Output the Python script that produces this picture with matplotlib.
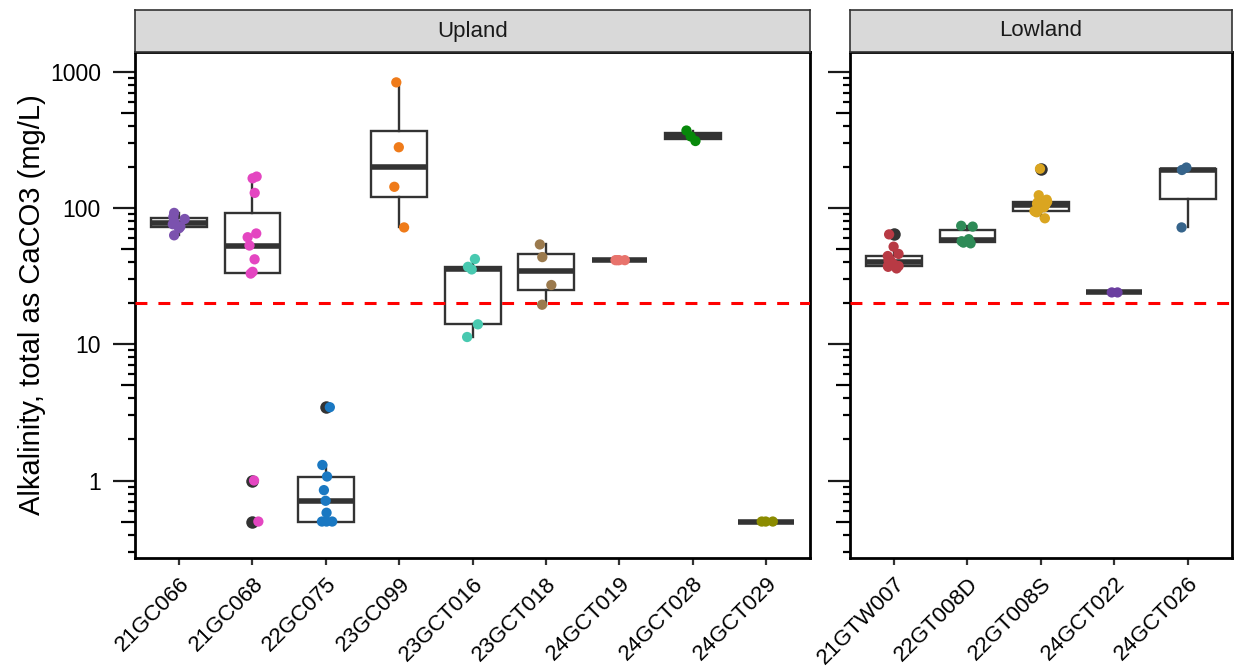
import numpy as np
import matplotlib
matplotlib.use("Agg")
import matplotlib.pyplot as plt
from matplotlib import cbook
from matplotlib.lines import TICKLEFT
from matplotlib.ticker import FixedLocator, LogLocator, NullFormatter
from matplotlib.transforms import blended_transform_factory

plt.rcParams['font.family'] = ['Liberation Sans', 'DejaVu Sans']

# alkalinity (mg/L as CaCO3) per site
a21GC066 = [63, 71, 73, 76, 79, 83, 86, 92]
a21GC068 = [0.5, 1.0, 33, 34, 42, 53, 61, 65, 129, 165, 170]
a22GC075 = [0.5, 0.5, 0.5, 0.58, 0.71, 0.85, 1.07, 1.3, 3.45]
a23GC099 = [72, 143, 279, 835]
a23GCT016 = [11.3, 14.0, 35.4, 37, 42.2]
a23GCT018 = [19.5, 27.2, 43.6, 54]
a24GCT019 = [41.4, 41.4, 41.4, 41.4]
a24GCT028 = [310, 335, 370]
a24GCT029 = [0.5, 0.5, 0.5]

a21GTW007 = [36, 37, 37.5, 37.5, 38, 39, 40, 41, 42, 44.4, 46, 52, 64]
a22GT008D = [55, 55.7, 57, 59, 73, 74]
a22GT008S = [84, 93, 94, 95, 96, 101, 104, 106, 107, 108, 110, 111, 115, 124, 194]
a24GCT022 = [24, 24]
a24GCT026 = [72, 190, 198]

upland_sites = ['21GC066', '21GC068', '22GC075', '23GC099', '23GCT016',
                '23GCT018', '24GCT019', '24GCT028', '24GCT029']
upland_values = [a21GC066, a21GC068, a22GC075, a23GC099, a23GCT016,
                 a23GCT018, a24GCT019, a24GCT028, a24GCT029]
upland_colors = ['#7B52AE', '#E446C1', '#1A78C2', '#EF7B1A', '#48C9B0',
                 '#9B7A4D', '#E8736C', '#07880A', '#8B8B00']

lowland_sites = ['21GTW007', '22GT008D', '22GT008S', '24GCT022', '24GCT026']
lowland_values = [a21GTW007, a22GT008D, a22GT008S, a24GCT022, a24GCT026]
lowland_colors = ['#B83A44', '#2E8B57', '#DAA520', '#6B3FA0', '#36648B']

threshold = 20
ylab = 'Alkalinity, total as CaCO3 (mg/L)'

W, H = 1235, 669
fig = plt.figure(figsize=(W / 100, H / 100), dpi=100)

panel_top, panel_bot = 52, 558
strip_top = 10
left_x0, unit = 135, 73.4

rng = np.random.default_rng(11)
dark = '#333333'


def log_box_stats(vals):
    # quartiles on the log10 scale, then back-transformed
    st = cbook.boxplot_stats(np.log10(vals), whis=1.5)[0]
    for k in ('med', 'q1', 'q3', 'whislo', 'whishi', 'cilo', 'cihi', 'mean'):
        st[k] = 10 ** st[k]
    st['fliers'] = 10 ** np.asarray(st['fliers'])
    return st


def draw_panel(x0, sites, values, colors, title, show_labels):
    n = len(sites)
    w = (n + 0.2) * unit
    ax = fig.add_axes([x0 / W, 1 - panel_bot / H, w / W, (panel_bot - panel_top) / H])
    ax.set_yscale('log')
    pos = np.arange(1, n + 1)
    stats = [log_box_stats(v) for v in values]
    ax.bxp(stats, positions=pos, widths=0.76, patch_artist=True, showcaps=False,
           manage_ticks=False,
           boxprops=dict(facecolor='white', edgecolor=dark, linewidth=1.7),
           whiskerprops=dict(color=dark, linewidth=1.7),
           medianprops=dict(color=dark, linewidth=4.0, solid_capstyle='butt'),
           flierprops=dict(marker='o', markerfacecolor=dark, markeredgecolor='none',
                           markersize=9))
    for p, v, c in zip(pos, values, colors):
        xj = p + rng.uniform(-0.09, 0.09, len(v))
        ax.scatter(xj, v, s=7.4 ** 2, color=c, edgecolors='none', zorder=4)
    ax.axhline(threshold, color='red', linewidth=2.2, linestyle=(0, (3.9, 3.6)), zorder=5)

    ax.set_xlim(0.4, n + 0.6)
    ax.set_ylim(0.27, 1395)
    ax.set_xticks(pos)
    ax.set_xticklabels(sites, rotation=45, ha='right', va='top',
                       rotation_mode='anchor', fontsize=16)
    ax.tick_params(axis='x', length=5, width=1.6, color=dark, pad=6)

    ax.yaxis.set_major_locator(FixedLocator([1, 10, 100, 1000]))
    ax.yaxis.set_minor_locator(LogLocator(base=10, subs=[2, 3, 4, 6, 7, 8, 9], numticks=20))
    ax.yaxis.set_minor_formatter(NullFormatter())
    ax.tick_params(axis='y', which='major', length=15.5, width=1.6, color='#1a1a1a',
                   labelsize=16.5, pad=9)
    ax.tick_params(axis='y', which='minor', length=5, width=1.6, color='black')
    if show_labels:
        ax.set_yticklabels(['1', '10', '100', '1000'])
        ax.set_ylabel(ylab, fontsize=21, labelpad=3)
    else:
        ax.set_yticklabels([])
    # mid-length ticks at the fives
    tr = blended_transform_factory(ax.transAxes, ax.transData)
    ax.plot([0] * 4, [0.5, 5, 50, 500], transform=tr, ls='none', marker=TICKLEFT,
            markersize=10, markeredgewidth=1.6, color='black', clip_on=False)

    for s in ax.spines.values():
        s.set_linewidth(2.0)
        s.set_color('black')

    # facet strip
    sax = fig.add_axes([x0 / W, 1 - panel_top / H, w / W, (panel_top - strip_top) / H])
    sax.set_facecolor('#D9D9D9')
    sax.set_xticks([])
    sax.set_yticks([])
    for s in sax.spines.values():
        s.set_linewidth(1.2)
        s.set_color(dark)
    sax.text(0.5, 0.5, title, ha='center', va='center', fontsize=16,
             color='#1a1a1a', transform=sax.transAxes)
    return ax


draw_panel(left_x0, upland_sites, upland_values, upland_colors, 'Upland', True)
draw_panel(850, lowland_sites, lowland_values, lowland_colors, 'Lowland', False)

fig.savefig('out.png', dpi=100)
